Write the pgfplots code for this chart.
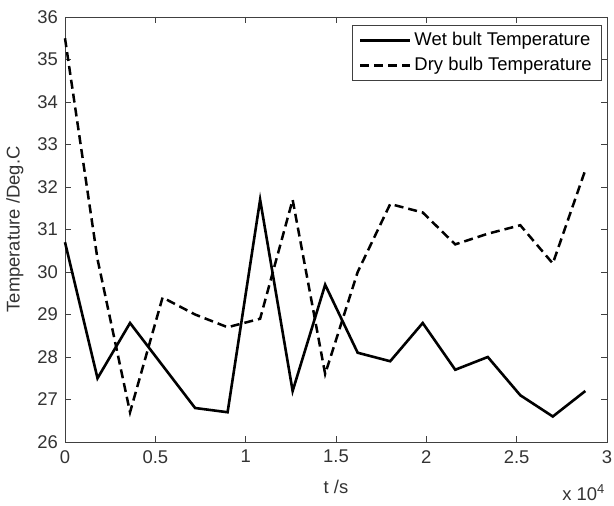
\documentclass[border=0pt]{standalone}
\usepackage{pgfplots}
\pgfplotsset{compat=1.18}
\usepackage{fontspec}
\setmainfont{Liberation Sans}
\begin{document}
\fontsize{18}{21}\selectfont
\begin{tikzpicture}[x=1bp,y=1bp]
\path[use as bounding box] (-65,-64) rectangle (549,442);
\begin{axis}[
  at={(0,0)}, anchor=south west,
  scale only axis, width=542bp, height=425bp,
  xmin=0, xmax=30000, ymin=26, ymax=36,
  xtick={0,5000,10000,15000,20000,25000,30000},
  xticklabels={0,0.5,1,1.5,2,2.5,3},
  scaled x ticks=false,
  ytick={26,27,...,36},
  /pgf/number format/assume math mode=true,
  tick align=inside,
  major tick length=6bp,
  axis line style={line width=0.8pt, black!75},
  every tick/.style={black!75, line width=0.6pt},
  tick label style={font=\fontsize{18.5}{21}\selectfont, text=black!80},
  xticklabel style={yshift=-2bp},
  yticklabel style={xshift=-1bp},
  xlabel={t /s}, ylabel={Temperature /Deg.C},
  every axis x label/.style={at={(axis description cs:0.5,-0.106)}, anchor=center},
  every axis y label/.style={at={(axis description cs:-0.0923,0.5)}, anchor=center, rotate=90},
  label style={font=\fontsize{18.5}{21}\selectfont, text=black!80},
  legend style={at={(1,1)}, anchor=north east, xshift=-5bp, yshift=-8bp,
    font=\fontsize{18.5}{21}\selectfont, draw=black!75, line width=0.6pt,
    inner xsep=7bp, inner ysep=4bp, row sep=3bp, nodes={inner sep=3bp}},
  legend cell align=left,
  legend image code/.code={\draw[#1] (0bp,0bp) -- (50bp,0bp);},
  clip=false,
]
\addplot[black, line width=2.6bp] coordinates {
(0,30.7) (1800,27.5) (3600,28.8) (5400,27.8) (7200,26.8) (9000,26.7)
(10800,31.7) (12600,27.2) (14400,29.7) (16200,28.1) (18000,27.9)
(19800,28.8) (21600,27.7) (23400,28.0) (25200,27.1) (27000,26.6) (28800,27.2)};
\addlegendentry{Wet bult Temperature}
\addplot[black, line width=2.5bp, dash pattern=on 9bp off 5bp] coordinates {
(0,35.5) (1800,30.3) (3600,26.7) (5400,29.4) (7200,29.0) (9000,28.7)
(10800,28.9) (12600,31.7) (14400,27.6) (16200,30.0) (18000,31.6)
(19800,31.4) (21600,30.65) (23400,30.9) (25200,31.1) (27000,30.2) (28800,32.4)};
\addlegendentry{Dry bulb Temperature}
\node[anchor=base east, text=black!80, font=\fontsize{18.5}{21}\selectfont, inner sep=0pt] at (axis cs:30000,26) [yshift=-58bp, xshift=-2bp] {x 10\textsuperscript{4}};
\end{axis}
\end{tikzpicture}
\end{document}
